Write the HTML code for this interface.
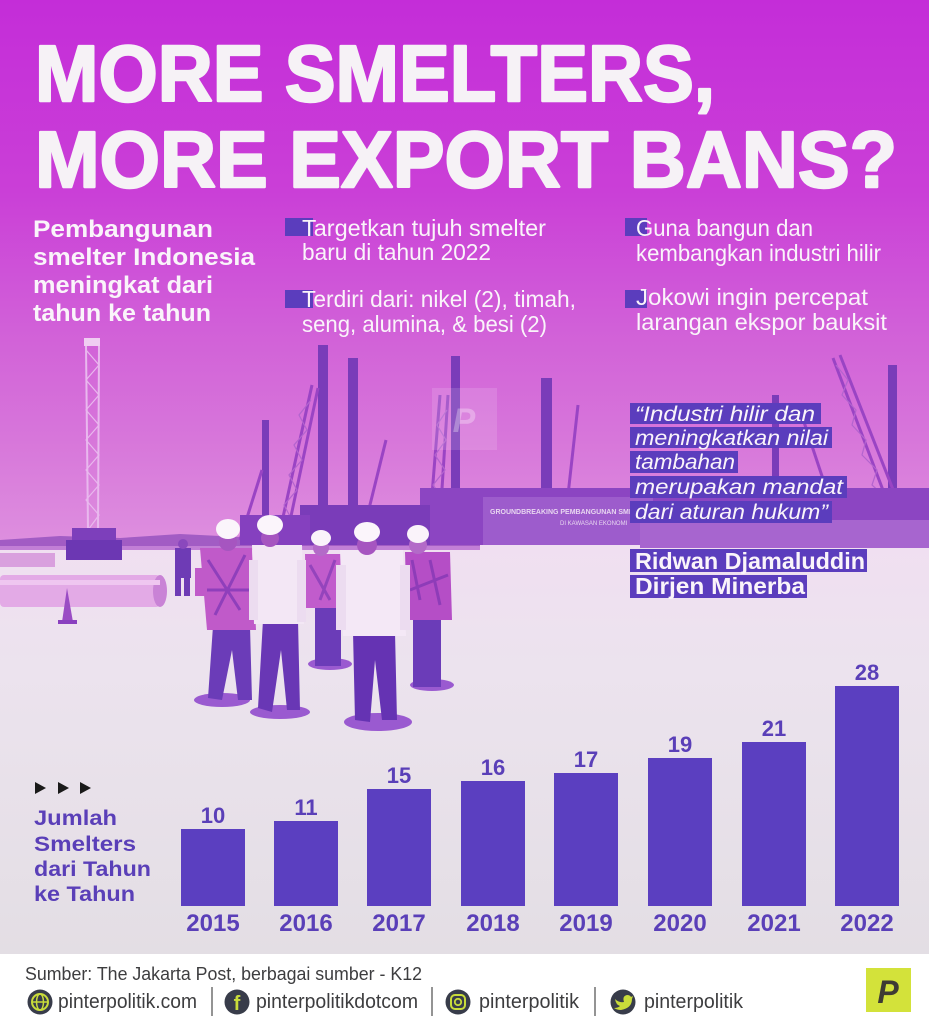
<!DOCTYPE html>
<html>
<head>
<meta charset="utf-8">
<style>
  html,body{margin:0;padding:0;background:#fff;}
  svg{display:block;}
  text{font-family:"Liberation Sans", sans-serif;}
</style>
</head>
<body>
<svg width="929" height="1024" viewBox="0 0 929 1024" xmlns="http://www.w3.org/2000/svg">
  <defs>
    <linearGradient id="sky" x1="0" y1="0" x2="0" y2="1">
      <stop offset="0" stop-color="#c42dd8"/>
      <stop offset="0.35" stop-color="#ca3fd7"/>
      <stop offset="0.6" stop-color="#d160d8"/>
      <stop offset="0.8" stop-color="#d776da"/>
      <stop offset="1" stop-color="#de90df"/>
    </linearGradient>
    <linearGradient id="ground" x1="0" y1="0" x2="0" y2="1">
      <stop offset="0" stop-color="#f0dff1"/>
      <stop offset="0.3" stop-color="#ece3ee"/>
      <stop offset="1" stop-color="#e3dee4"/>
    </linearGradient>
  </defs>

  <!-- backgrounds -->
  <rect x="0" y="0" width="929" height="548" fill="url(#sky)"/>
  <rect x="0" y="545" width="929" height="410" fill="url(#ground)"/>
  <rect x="0" y="954" width="929" height="70" fill="#ffffff"/>

  <!-- horizon treeline -->
  <path d="M0 540 L60 536 L120 538 L180 534 L240 537 L300 535 L360 538 L420 536 L480 538 L480 550 L0 550 Z" fill="#a25cc4"/>
  <rect x="0" y="546" width="480" height="4" fill="#c27fd6"/>

  <!-- left lattice crane (light) -->
  <g stroke="#e9b8ee" stroke-width="2" fill="none">
    <line x1="86" y1="345" x2="88" y2="530"/>
    <line x1="99" y1="345" x2="98" y2="530"/>
    <path d="M86 350 L99 365 L86 380 L99 395 L86 410 L99 425 L86 440 L99 455 L86 470 L99 485 L86 500 L99 515 L88 530" stroke-width="1.2"/>
  </g>
  <rect x="84" y="338" width="16" height="8" fill="#f0cdf2"/>
  <rect x="72" y="528" width="44" height="12" fill="#7d3fbb"/>
  <rect x="66" y="540" width="56" height="20" fill="#6c37b3"/>

  <g fill="#7a3cb9">
    <rect x="262" y="420" width="7" height="125"/>
    <rect x="318" y="345" width="10" height="200"/>
    <rect x="348" y="358" width="10" height="187"/>
    <rect x="451" y="356" width="9" height="189"/>
    <rect x="541" y="378" width="11" height="140"/>
    <rect x="888" y="365" width="9" height="165"/>
    <rect x="772" y="395" width="7" height="110"/>
  </g>
  <g stroke="#9a44c4" stroke-width="3" fill="none">
    <line x1="278" y1="540" x2="312" y2="385"/>
    <line x1="286" y1="540" x2="318" y2="388"/>
    <line x1="365" y1="525" x2="386" y2="440"/>
    <line x1="430" y1="520" x2="440" y2="395"/>
    <line x1="440" y1="520" x2="448" y2="395"/>
    <line x1="568" y1="495" x2="578" y2="405"/>
    <line x1="840" y1="355" x2="905" y2="520"/>
    <line x1="833" y1="358" x2="895" y2="522"/>
    <line x1="800" y1="410" x2="830" y2="500"/>
    <line x1="240" y1="540" x2="262" y2="470"/>
  </g>
  <g stroke="#b364cf" stroke-width="1.2" fill="none">
    <path d="M280 530 L292 520 L284 505 L297 490 L289 475 L302 460 L294 445 L307 430 L299 415 L311 400"/>
    <path d="M432 515 L444 500 L433 485 L445 470 L435 455 L446 440 L437 425 L447 410"/>
    <path d="M836 365 L848 380 L842 395 L856 410 L852 425 L866 440 L862 455 L877 470 L872 485 L888 500"/>
  </g>
  <!-- machinery band -->
  <rect x="420" y="488" width="509" height="57" fill="#8c45c2"/>
  <rect x="300" y="505" width="130" height="40" fill="#7a3cb9"/>
  <rect x="240" y="515" width="70" height="30" fill="#8540bf"/>
  <rect x="483" y="497" width="170" height="48" fill="#9d5ccc"/>
  <text x="490" y="514" font-size="7" font-weight="bold" fill="#e8d6f0">GROUNDBREAKING PEMBANGUNAN SMELTER PT FREEPORT INDONESIA</text>
  <text x="560" y="525" font-size="6" fill="#e8d6f0">DI KAWASAN EKONOMI</text>
  <rect x="640" y="520" width="289" height="28" fill="#a765cf"/>

  <!-- watermark -->
  <rect x="432" y="388" width="65" height="62" fill="#ffffff" fill-opacity="0.13"/>
  <text x="464" y="432" font-family="Liberation Serif" font-style="italic" font-weight="bold" font-size="34" fill="#ffffff" fill-opacity="0.3" text-anchor="middle">P</text>

  <!-- pipes left -->
  <rect x="0" y="553" width="55" height="14" fill="#d9a0de"/>
  <rect x="0" y="575" width="160" height="32" rx="4" fill="#e3aae6"/>
  <ellipse cx="160" cy="591" rx="7" ry="16" fill="#c983d6"/>
  <rect x="0" y="580" width="160" height="5" fill="#efc6f0"/>
  <polygon points="67,588 62,622 73,622" fill="#9a4cc4"/>
  <rect x="58" y="620" width="19" height="4" fill="#8a40bf"/>

  <!-- background person -->
  <rect x="175" y="548" width="16" height="30" fill="#6e3bb5"/>
  <rect x="175" y="578" width="6" height="18" fill="#6e3bb5"/>
  <rect x="184" y="578" width="6" height="18" fill="#6e3bb5"/>
  <circle cx="183" cy="544" r="5" fill="#8a48bd"/>

  <!-- people -->
  <g fill="#9a5ad0">
    <ellipse cx="222" cy="700" rx="28" ry="7"/>
    <ellipse cx="280" cy="712" rx="30" ry="7"/>
    <ellipse cx="330" cy="664" rx="22" ry="6"/>
    <ellipse cx="378" cy="722" rx="34" ry="9"/>
    <ellipse cx="432" cy="685" rx="22" ry="6"/>
  </g>
  <rect x="413" y="615" width="28" height="72" fill="#6b3cb8"/>
  <path d="M405 552 L450 552 L452 620 L407 620 Z" fill="#b54ec6"/>
  <path d="M412 560 L420 600 M430 560 L440 605 M410 590 L448 575" stroke="#8e3cb8" stroke-width="3"/>
  <circle cx="418" cy="545" r="9" fill="#b36ac8"/>
  <ellipse cx="418" cy="534" rx="11" ry="9" fill="#faf3fa"/>
  <rect x="315" y="604" width="26" height="62" fill="#6b3cb8"/>
  <path d="M305 554 L345 554 L347 608 L306 608 Z" fill="#c15ccc"/>
  <path d="M310 565 L330 600 M335 560 L320 600" stroke="#9444bc" stroke-width="3"/>
  <circle cx="321" cy="548" r="8" fill="#b36ac8"/>
  <ellipse cx="321" cy="538" rx="10" ry="8" fill="#faf3fa"/>
  <path d="M213 626 L250 626 L252 700 L238 700 L232 650 L222 700 L208 698 Z" fill="#6b3cb8"/>
  <path d="M200 548 L252 548 L256 630 L207 630 Z" fill="#c05ac9"/>
  <path d="M208 560 L240 610 M245 555 L215 615 M205 590 L250 590" stroke="#8f3fbb" stroke-width="3"/>
  <rect x="195" y="568" width="12" height="28" fill="#c05ac9"/>
  <circle cx="228" cy="542" r="9" fill="#a655c0"/>
  <ellipse cx="228" cy="529" rx="12" ry="10" fill="#fbf5fb"/>
  <path d="M263 620 L298 620 L300 710 L287 710 L281 650 L272 712 L258 708 Z" fill="#6937b5"/>
  <path d="M252 545 L302 545 L304 624 L254 624 Z" fill="#f3e7f5"/>
  <rect x="249" y="560" width="9" height="60" fill="#ecdcf0"/>
  <rect x="297" y="560" width="9" height="62" fill="#ecdcf0"/>
  <circle cx="270" cy="538" r="9" fill="#a655c0"/>
  <ellipse cx="270" cy="525" rx="13" ry="10" fill="#fbf5fb"/>
  <path d="M353 632 L395 632 L397 720 L382 720 L375 660 L370 722 L355 720 Z" fill="#6533b3"/>
  <path d="M340 550 L403 550 L406 636 L343 636 Z" fill="#f4e8f6"/>
  <rect x="336" y="565" width="10" height="65" fill="#ecdcf0"/>
  <rect x="400" y="565" width="10" height="65" fill="#ecdcf0"/>
  <circle cx="367" cy="545" r="10" fill="#a655c0"/>
  <ellipse cx="367" cy="532" rx="13" ry="10" fill="#fbf5fb"/>

  <!-- TITLE -->
  <g fill="#f6f2f6" stroke="#f6f2f6" stroke-width="2.4" stroke-linejoin="round" font-weight="bold" font-size="80">
    <text x="35" y="101" textLength="680" lengthAdjust="spacingAndGlyphs">MORE SMELTERS,</text>
    <text x="35" y="187" textLength="862" lengthAdjust="spacingAndGlyphs">MORE EXPORT BANS?</text>
  </g>

  <!-- left intro -->
  <g fill="#faf4fa" font-weight="bold" font-size="24">
    <text x="33" y="237" textLength="180" lengthAdjust="spacingAndGlyphs">Pembangunan</text>
    <text x="33" y="265" textLength="222" lengthAdjust="spacingAndGlyphs">smelter Indonesia</text>
    <text x="33" y="293" textLength="180" lengthAdjust="spacingAndGlyphs">meningkat dari</text>
    <text x="33" y="321" textLength="178" lengthAdjust="spacingAndGlyphs">tahun ke tahun</text>
  </g>

  <!-- bullet squares -->
  <g fill="#5b3dbd">
    <rect x="285" y="218" width="28" height="18"/>
    <rect x="285" y="290" width="28" height="18"/>
    <rect x="625" y="218" width="22" height="18"/>
    <rect x="625" y="290" width="22" height="18"/>
  </g>
  <g fill="#faf4fa" font-size="23">
    <text x="302" y="236" textLength="244" lengthAdjust="spacingAndGlyphs">Targetkan tujuh smelter</text>
    <text x="302" y="260" textLength="189" lengthAdjust="spacingAndGlyphs">baru di tahun 2022</text>
    <text x="302" y="307" textLength="274" lengthAdjust="spacingAndGlyphs">Terdiri dari: nikel (2), timah,</text>
    <text x="302" y="332" textLength="245" lengthAdjust="spacingAndGlyphs">seng, alumina, &amp; besi (2)</text>
    <text x="636" y="236" textLength="177" lengthAdjust="spacingAndGlyphs">Guna bangun dan</text>
    <text x="636" y="261" textLength="245" lengthAdjust="spacingAndGlyphs">kembangkan industri hilir</text>
    <text x="636" y="305" textLength="232" lengthAdjust="spacingAndGlyphs">Jokowi ingin percepat</text>
    <text x="636" y="330" textLength="251" lengthAdjust="spacingAndGlyphs">larangan ekspor bauksit</text>
  </g>

  <!-- quote -->
  <g fill="#5b3dbd">
    <rect x="630" y="403" width="191" height="21"/>
    <rect x="630" y="427" width="202" height="21"/>
    <rect x="630" y="451" width="108" height="22"/>
    <rect x="630" y="476" width="217" height="22"/>
    <rect x="630" y="501" width="202" height="22"/>
    <rect x="630" y="549" width="237" height="23"/>
    <rect x="630" y="575" width="177" height="23"/>
  </g>
  <g fill="#faf4fa" font-style="italic" font-size="21">
    <text x="635" y="421" textLength="180" lengthAdjust="spacingAndGlyphs">“Industri hilir dan</text>
    <text x="635" y="445" textLength="193" lengthAdjust="spacingAndGlyphs">meningkatkan nilai</text>
    <text x="635" y="469" textLength="100" lengthAdjust="spacingAndGlyphs">tambahan</text>
    <text x="635" y="494" textLength="208" lengthAdjust="spacingAndGlyphs">merupakan mandat</text>
    <text x="635" y="519" textLength="193" lengthAdjust="spacingAndGlyphs">dari aturan hukum”</text>
  </g>
  <g fill="#faf4fa" font-weight="bold" font-size="23">
    <text x="635" y="569" textLength="230" lengthAdjust="spacingAndGlyphs">Ridwan Djamaluddin</text>
    <text x="635" y="594" textLength="170" lengthAdjust="spacingAndGlyphs">Dirjen Minerba</text>
  </g>

  <!-- chart label -->
  <g fill="#1a1a1a">
    <polygon points="35,782 35,794 46,788"/>
    <polygon points="58,782 58,794 69,788"/>
    <polygon points="80,782 80,794 91,788"/>
  </g>
  <g fill="#5a3fb8" font-weight="bold" font-size="21">
    <text x="34" y="825" textLength="83" lengthAdjust="spacingAndGlyphs">Jumlah</text>
    <text x="34" y="851" textLength="102" lengthAdjust="spacingAndGlyphs">Smelters</text>
    <text x="34" y="876" textLength="117" lengthAdjust="spacingAndGlyphs">dari Tahun</text>
    <text x="34" y="901" textLength="101" lengthAdjust="spacingAndGlyphs">ke Tahun</text>
  </g>

  <!-- bars -->
  <g fill="#5b3fc0">
    <rect x="181" y="829" width="64" height="77"/>
    <rect x="274" y="821" width="64" height="85"/>
    <rect x="367" y="789" width="64" height="117"/>
    <rect x="461" y="781" width="64" height="125"/>
    <rect x="554" y="773" width="64" height="133"/>
    <rect x="648" y="758" width="64" height="148"/>
    <rect x="742" y="742" width="64" height="164"/>
    <rect x="835" y="686" width="64" height="220"/>
  </g>
  <g fill="#5a3fb8" font-weight="bold" font-size="22" text-anchor="middle">
    <text x="213" y="823">10</text>
    <text x="306" y="815">11</text>
    <text x="399" y="783">15</text>
    <text x="493" y="775">16</text>
    <text x="586" y="767">17</text>
    <text x="680" y="752">19</text>
    <text x="774" y="736">21</text>
    <text x="867" y="680">28</text>
  </g>
  <g fill="#5a3fb8" font-weight="bold" font-size="24" text-anchor="middle">
    <text x="213" y="931">2015</text>
    <text x="306" y="931">2016</text>
    <text x="399" y="931">2017</text>
    <text x="493" y="931">2018</text>
    <text x="586" y="931">2019</text>
    <text x="680" y="931">2020</text>
    <text x="774" y="931">2021</text>
    <text x="867" y="931">2022</text>
  </g>

  <!-- footer -->
  <text x="25" y="980" font-size="18" fill="#3d3d3f" textLength="397" lengthAdjust="spacingAndGlyphs">Sumber: The Jakarta Post, berbagai sumber - K12</text>

  <g fill="#383c4a">
    <circle cx="40" cy="1002" r="12.5"/>
    <circle cx="237" cy="1002" r="12.5"/>
    <circle cx="458" cy="1002" r="12.5"/>
    <circle cx="623" cy="1002" r="12.5"/>
  </g>
  <circle cx="40" cy="1002" r="8" fill="none" stroke="#c9dc3a" stroke-width="2"/>
  <line x1="32" y1="1002" x2="48" y2="1002" stroke="#c9dc3a" stroke-width="1.5"/>
  <ellipse cx="40" cy="1002" rx="3.5" ry="8" fill="none" stroke="#c9dc3a" stroke-width="1.5"/>
  <text x="237" y="1010" font-size="20" font-weight="bold" fill="#c9dc3a" text-anchor="middle">f</text>
  <rect x="451" y="995" width="14" height="14" rx="4" fill="none" stroke="#c9dc3a" stroke-width="2"/>
  <circle cx="458" cy="1002" r="3.2" fill="none" stroke="#c9dc3a" stroke-width="1.8"/>
  <path d="M615 999 Q619 1003 624 1002 Q622 996 627 995 Q630 995 631 997 L633 996 L632 999 Q632 1008 621 1010 Q617 1010 614 1008 Q618 1008 620 1006 Q616 1005 615 999 Z" fill="#c9dc3a"/>

  <g stroke="#5a5a5a" stroke-width="1.3">
    <line x1="212" y1="987" x2="212" y2="1016"/>
    <line x1="432" y1="987" x2="432" y2="1016"/>
    <line x1="595" y1="987" x2="595" y2="1016"/>
  </g>
  <g fill="#3d3d3f" font-size="20">
    <text x="58" y="1008" textLength="139" lengthAdjust="spacingAndGlyphs">pinterpolitik.com</text>
    <text x="256" y="1008" textLength="162" lengthAdjust="spacingAndGlyphs">pinterpolitikdotcom</text>
    <text x="479" y="1008" textLength="100" lengthAdjust="spacingAndGlyphs">pinterpolitik</text>
    <text x="644" y="1008" textLength="99" lengthAdjust="spacingAndGlyphs">pinterpolitik</text>
  </g>

  <!-- logo -->
  <rect x="866" y="968" width="45" height="44" fill="#d3e23a"/>
  <text x="888" y="1003" font-family="Liberation Serif" font-style="italic" font-weight="bold" font-size="32" fill="#3e3b34" text-anchor="middle">P</text>
</svg>
</body>
</html>
